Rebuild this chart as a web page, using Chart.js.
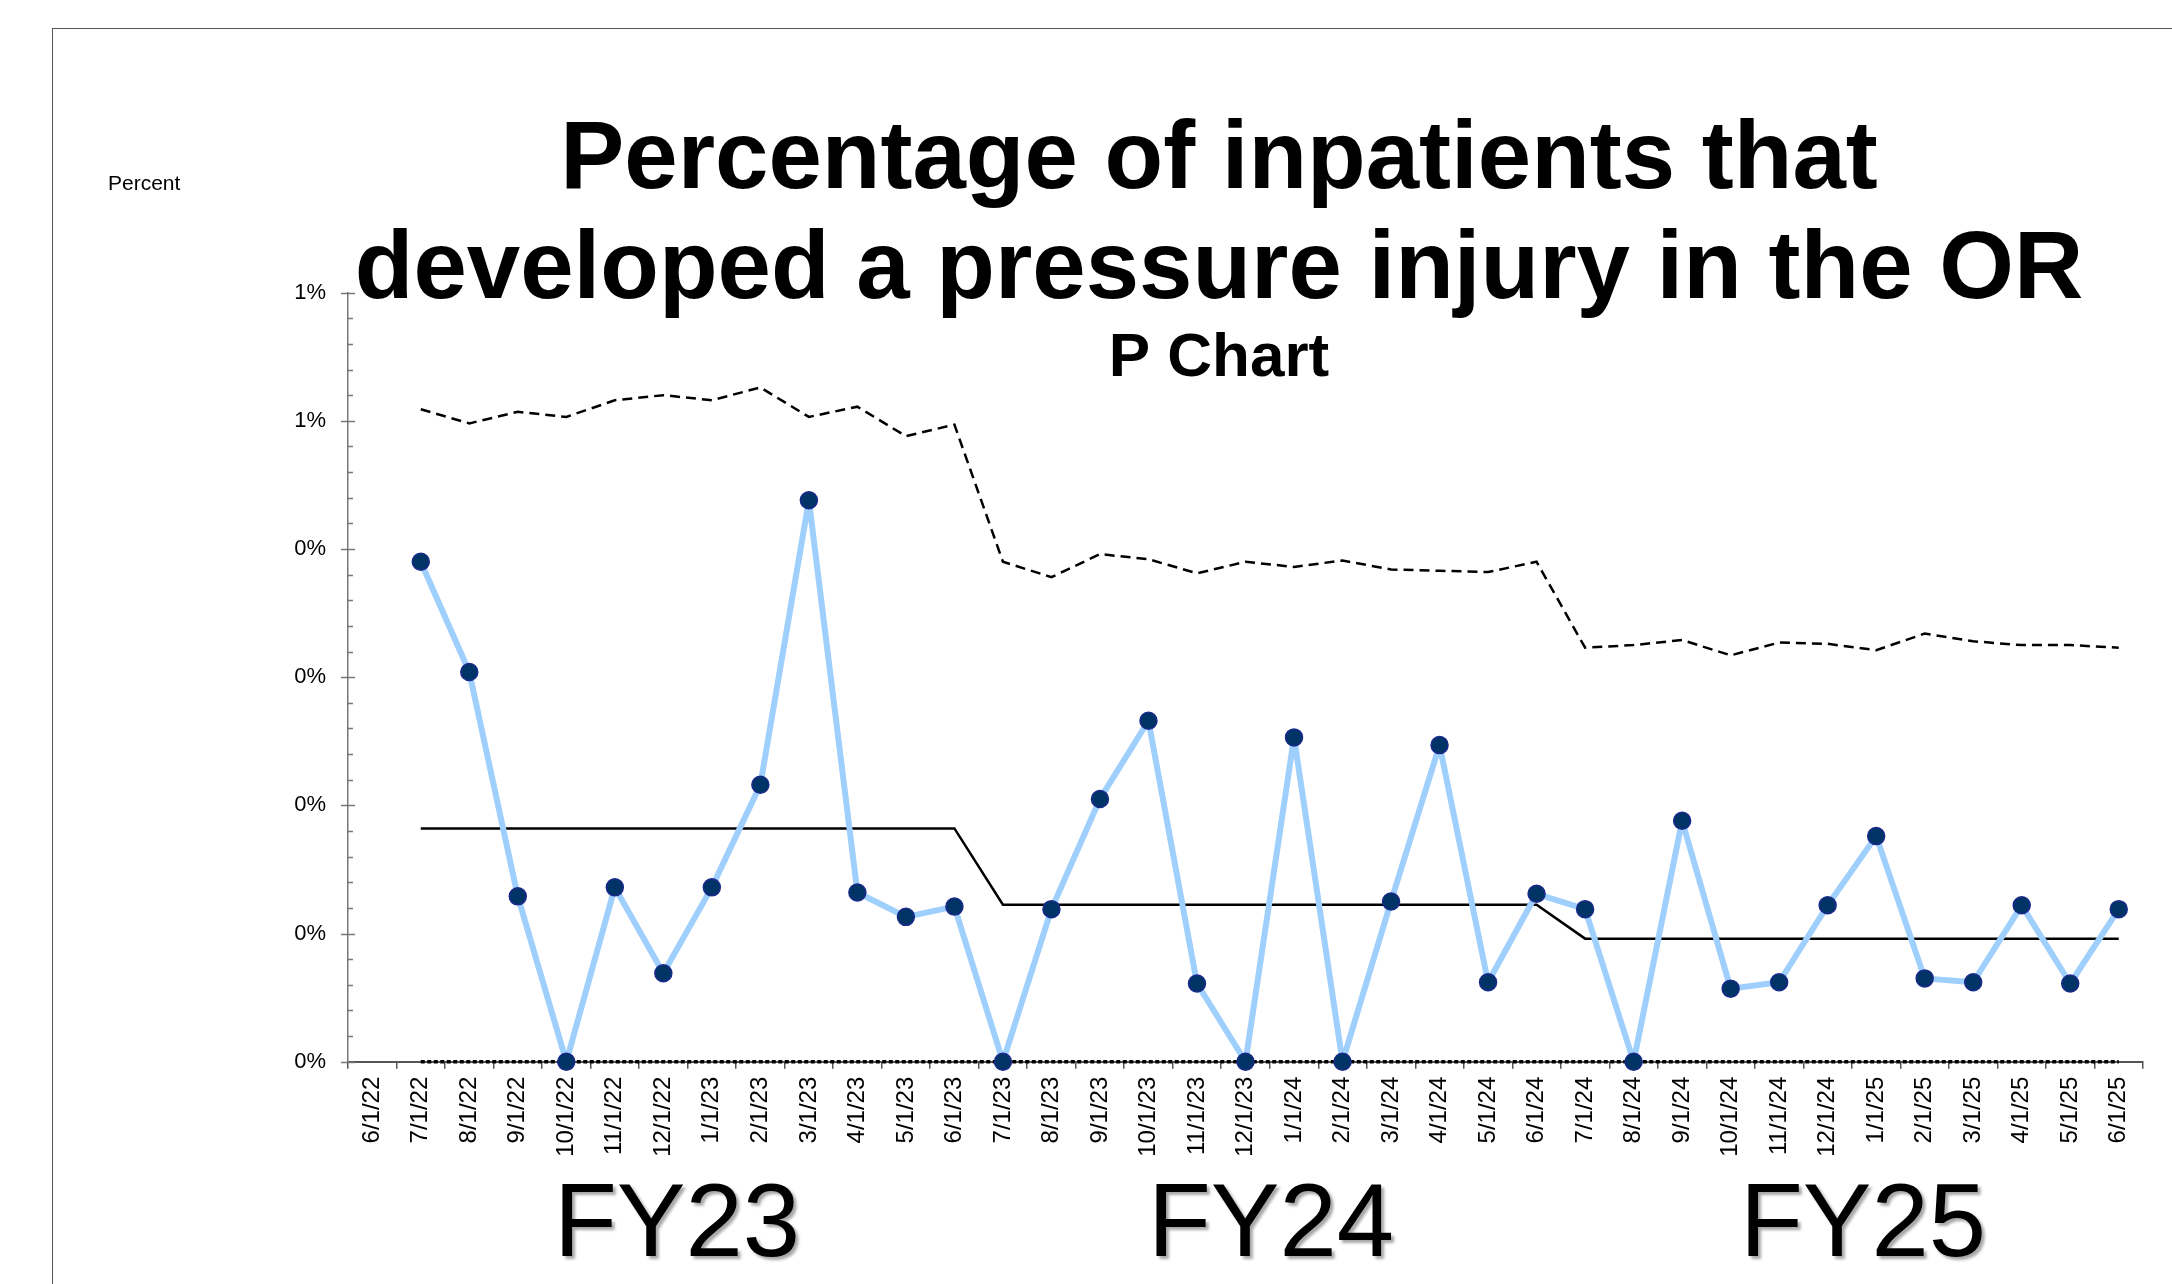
<!DOCTYPE html>
<html>
<head>
<meta charset="utf-8">
<script src="https://cdn.jsdelivr.net/npm/chart.js@4.4.1/dist/chart.umd.min.js"></script>
<style>
  html, body { margin: 0; padding: 0; background: #fff; }
  #wrap { position: relative; width: 2172px; height: 1284px; overflow: hidden; background: #fff; }
  #frame { position: absolute; left: 52px; top: 28px; width: 3000px; height: 3000px;
           border-left: 1.5px solid #555; border-top: 1.5px solid #555; box-sizing: border-box; }
  #chart { position: absolute; left: 0; top: 0; }
  .txt { position: absolute; font-family: "Liberation Sans", Arial, Helvetica, sans-serif; color: #000;
         white-space: nowrap; line-height: 1; }
  #percent { left: 108px; top: 172px; font-size: 21px; }
  .fy { top: 1169px; font-size: 103px; transform: translateX(-50%);
        text-shadow: 3px 3px 3px rgba(0,0,0,0.35); }
</style>
</head>
<body>
<div id="wrap">
  <div id="frame"></div>
  <canvas id="chart" width="2172" height="1284"></canvas>
  <div class="txt" id="percent">Percent</div>
  <div class="txt fy" style="left:677px">FY23</div>
  <div class="txt fy" style="left:1271px">FY24</div>
  <div class="txt fy" style="left:1863px">FY25</div>
</div>
<script>
// ---------- data (percent units) ----------
const months = [
  '6/1/22','7/1/22','8/1/22','9/1/22','10/1/22','11/1/22','12/1/22',
  '1/1/23','2/1/23','3/1/23','4/1/23','5/1/23','6/1/23',
  '7/1/23','8/1/23','9/1/23','10/1/23','11/1/23','12/1/23',
  '1/1/24','2/1/24','3/1/24','4/1/24','5/1/24','6/1/24',
  '7/1/24','8/1/24','9/1/24','10/1/24','11/1/24','12/1/24',
  '1/1/25','2/1/25','3/1/25','4/1/25','5/1/25','6/1/25'
];

const pValues = [null,
  0.390, 0.304, 0.129, 0.000, 0.136, 0.069,
  0.136, 0.216, 0.438, 0.132, 0.113, 0.121,
  0.000, 0.119, 0.205, 0.266, 0.061, 0.000,
  0.253, 0.000, 0.125, 0.247, 0.062, 0.131,
  0.119, 0.000, 0.188, 0.057, 0.062, 0.122,
  0.176, 0.065, 0.062, 0.122, 0.061, 0.119
];

const uclValues = [null,
  0.509, 0.498, 0.507, 0.503, 0.516, 0.520,
  0.516, 0.526, 0.503, 0.511, 0.488, 0.497,
  0.390, 0.378, 0.396, 0.392, 0.381, 0.390,
  0.386, 0.391, 0.384, 0.383, 0.382, 0.390,
  0.323, 0.325, 0.329, 0.317, 0.327, 0.326,
  0.321, 0.334, 0.328, 0.325, 0.325, 0.323
];

const clValues = [null,
  0.182, 0.182, 0.182, 0.182, 0.182, 0.182,
  0.182, 0.182, 0.182, 0.182, 0.182, 0.182,
  0.1225, 0.1225, 0.1225, 0.1225, 0.1225, 0.1225,
  0.1225, 0.1225, 0.1225, 0.1225, 0.1225, 0.1225,
  0.096, 0.096, 0.096, 0.096, 0.096, 0.096,
  0.096, 0.096, 0.096, 0.096, 0.096, 0.096
];

const lclValues = [null,
  0, 0, 0, 0, 0, 0, 0, 0, 0, 0, 0, 0,
  0, 0, 0, 0, 0, 0, 0, 0, 0, 0, 0, 0,
  0, 0, 0, 0, 0, 0, 0, 0, 0, 0, 0, 0
];

const yTickLabels = ['0%', '0%', '0%', '0%', '0%', '1%', '1%'];
const yMin = 0, yMax = 0.6, yStep = 0.1, yMinorStep = 0.02;

const titleLines = ['Percentage of inpatients that', 'developed a pressure injury in the OR'];
const subtitleText = 'P Chart';

// ---------- chart ----------
Chart.defaults.font.family = '"Liberation Sans", Arial, Helvetica, sans-serif';
Chart.defaults.color = '#000';

const yTickMarks = {
  id: 'yTickMarks',
  afterDraw(chart) {
    const ys = chart.scales.y;
    const ctx = chart.ctx;
    const x0 = ys.right;
    ctx.save();
    ctx.strokeStyle = '#777';
    ctx.lineWidth = 1.5;
    const n = Math.round((yMax - yMin) / yMinorStep);
    const per = Math.round(yStep / yMinorStep);
    for (let i = 0; i <= n; i++) {
      const py = Math.round(ys.getPixelForValue(yMin + i * yMinorStep)) + 0.5;
      const major = (i % per) === 0;
      ctx.beginPath();
      ctx.moveTo(major ? x0 - 7 : x0, py);
      ctx.lineTo(x0 + (major ? 7 : 5), py);
      ctx.stroke();
    }
    ctx.restore();
  }
};

new Chart(document.getElementById('chart'), {
  type: 'line',
  data: {
    labels: months,
    datasets: [
      { label: 'Percent', data: pValues, borderColor: '#9fcffc', borderWidth: 6, borderJoinStyle: 'round',
        pointRadius: 8.5, pointHoverRadius: 8.5, pointBackgroundColor: '#003366',
        pointBorderColor: '#1a2a8c', pointBorderWidth: 1.5, tension: 0, clip: false, spanGaps: false },
      { label: 'CL', data: clValues, borderColor: '#000', borderWidth: 2.5, pointRadius: 0, tension: 0, clip: false },
      { label: 'UCL', data: uclValues, borderColor: '#000', borderWidth: 2.5, borderDash: [10, 6],
        pointRadius: 0, tension: 0, clip: false },
      { label: 'LCL', data: lclValues, borderColor: '#000', borderWidth: 3.5, borderDash: [4, 2.5],
        pointRadius: 0, tension: 0, clip: false }
    ]
  },
  options: {
    responsive: false,
    animation: false,
    devicePixelRatio: 1,
    layout: { padding: { left: 295, right: 29, top: 0, bottom: 0 } },
    plugins: {
      legend: { display: false },
      tooltip: { enabled: false },
      title: {
        display: true, text: titleLines, color: '#000',
        font: { size: 96, weight: 'bold', lineHeight: 110 / 96 },
        padding: { top: 106.4, bottom: -33.8 }
      },
      subtitle: {
        display: true, text: subtitleText, color: '#000',
        font: { size: 62, weight: 'bold', lineHeight: 74 / 62 },
        padding: { top: 29.6, bottom: -103.6 }
      }
    },
    scales: {
      x: {
        type: 'category',
        offset: true,
        border: { display: true, color: '#555', width: 2 },
        grid: { display: true, drawOnChartArea: false, drawTicks: true, tickLength: 7,
                color: '#555', lineWidth: 1.5, offset: true },
        ticks: { autoSkip: false, maxRotation: 90, minRotation: 90, padding: 8,
                 font: { size: 24 }, color: '#000' },
        afterFit(scale) { scale.height = 222.3; }
      },
      y: {
        min: yMin, max: yMax,
        border: { display: true, color: '#777', width: 1.5 },
        grid: { display: false, drawTicks: false },
        ticks: {
          stepSize: yStep, padding: 22, font: { size: 22 }, color: '#000',
          callback: (v, i) => yTickLabels[i]
        },
        afterFit(scale) { scale.width = 53; }
      }
    }
  },
  plugins: [yTickMarks]
});
</script>
</body>
</html>
